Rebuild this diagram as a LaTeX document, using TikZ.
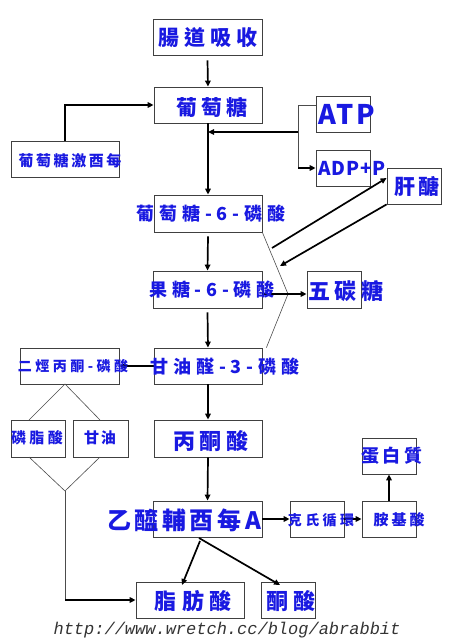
\documentclass[tikz,border=0pt]{standalone}
\usepackage{fontspec}
\setmainfont{Noto Sans CJK TC}
\newfontfamily\urlfont{Liberation Mono}
\usetikzlibrary{arrows.meta}
\definecolor{lblue}{RGB}{25,25,225}
\newcommand\lab[3]{{\bfseries\fontsize{#1pt}{#1pt}\selectfont\addfontfeature{LetterSpace=#2}#3}}
\tikzset{
  box/.style={draw=black!75, line width=0.8pt, fill=white, inner sep=0pt, minimum height=36pt},
  txt/.style={text=lblue, inner sep=0pt},
  arr/.style={line width=1.7pt, -{Triangle[length=6pt,width=5.5pt]}},
  thn/.style={line width=0.6pt, draw=black!70},
}
\begin{document}
\begin{tikzpicture}[x=1pt,y=-1pt]
\useasboundingbox (0,0) rectangle (458,640);
% boxes
\node[box, minimum width=109pt] (absorb) at (207.5,37) {};
\node[box, minimum width=108pt] (glu) at (208,105) {};
\node[box, minimum width=108pt] (hk) at (65,159) {};
\node[box, minimum width=54pt] (atp) at (343,114) {};
\node[box, minimum width=54pt] (adp) at (343,168) {};
\node[box, minimum width=54pt] (gly) at (414,186) {};
\node[box, minimum width=108pt, minimum height=37pt] (g6p) at (208,213.5) {};
\node[box, minimum width=109pt, minimum height=37pt] (f6p) at (207.5,289.5) {};
\node[box, minimum width=54pt, minimum height=37pt] (pent) at (334,289.5) {};
\node[box, minimum width=108pt] (ga3p) at (208,366) {};
\node[box, minimum width=99pt] (dhap) at (69.5,366) {};
\node[box, minimum width=54pt, minimum height=37pt] (pa) at (38,438.5) {};
\node[box, minimum width=55pt, minimum height=37pt] (glyc) at (100.5,438.5) {};
\node[box, minimum width=108pt, minimum height=37pt] (pyr) at (208,438.5) {};
\node[box, minimum width=54pt] (prot) at (389,456) {};
\node[box, minimum width=109pt] (acoa) at (207.5,519) {};
\node[box, minimum width=54pt] (krebs) at (317,519) {};
\node[box, minimum width=54pt] (aa) at (389,519) {};
\node[box, minimum width=108pt] (fa) at (190,600) {};
\node[box, minimum width=54pt] (ket) at (288,600) {};
% connectors
\draw[arr] ([yshift=-5pt]absorb.south) -- (glu.north);
\draw[arr] (hk.north) |- (glu.west);
\draw[arr] (glu.south) -- (g6p.north);
\coordinate (jt) at (298,105);
\coordinate (jm) at (298,132);
\coordinate (jb) at (298,168);
\coordinate (jglu) at (208,132);
\draw[thn] ([yshift=9pt]atp.west) -- (jt) -- (jb);
\draw[arr] (jb) -- (adp.west);
\draw[arr] (jm) -- (jglu);
\coordinate (gs) at (272,248);
\coordinate (ge) at (280,266);
\draw[arr] (gs) -- ([yshift=8pt]gly.west);
\draw[arr] (gly.south west) -- (ge);
\coordinate (bend) at (288,294);
\draw[thn] (g6p.south east) -- (bend) -- ([xshift=4pt]ga3p.north east);
\draw[arr] ([yshift=-4.5pt]f6p.east) -- ([yshift=-4.5pt]pent.west);
\draw[arr] ([yshift=-4pt]g6p.south) -- (f6p.north);
\draw[arr] ([yshift=-4pt]f6p.south) -- (ga3p.north);
\draw[arr] (ga3p.west) -- (dhap.east);
\coordinate (apex) at (65,384);
\coordinate (bot) at (65,491);
\coordinate (pat) at (29,420);
\coordinate (pab) at (29,457);
\coordinate (glt) at (100,420);
\coordinate (glb) at (100,457);
\draw[thn] (pat) -- (apex) -- (glt);
\draw[thn] (pab) -- (bot) -- (glb);
\draw[thn] (bot) -- (65,601);
\draw[arr] (65,600) -- (fa.west);
\draw[arr] (ga3p.south) -- (pyr.north);
\draw[arr] (pyr.south) -- (acoa.north);
\draw[arr] (acoa.east) -- (krebs.west);
\draw[arr] (krebs.east) -- (aa.west);
\draw[arr] (aa.north) -- (prot.south);
\coordinate (s1) at (200,541);
\coordinate (s2) at (199,538);
\draw[arr] (s1) -- (182,585);
\draw[arr] (s2) -- (280,585);
% texts
\node[txt] (tabsorb) at (208,38) {\lab{21}{24}{腸道吸收}};
\node[txt] (tglu) at (212,107) {\lab{21}{20}{葡萄糖}};
\node[txt] (thk) at (70,161) {\lab{15}{17}{葡萄糖激酉每}};
\node[txt] (tatp) at (347,114) {\lab{27}{10}{ATP}};
\node[txt] (tadp) at (352,168) {\lab{19}{5}{ADP+P}};
\node[txt] (tgly) at (417,186) {\lab{21}{10}{肝醣}};
\node[txt] (tg6p) at (211,214) {\lab{18}{27}{葡萄糖-6-磷酸}};
\node[txt] (tf6p) at (212,290) {\lab{18}{26}{果糖-6-磷酸}};
\node[txt] (tpent) at (346,291) {\lab{22}{20}{五碳糖}};
\node[txt] (tga3p) at (225,367) {\lab{18}{27}{甘油醛-3-磷酸}};
\node[txt] (tdhap) at (73,366) {\lab{14}{25}{二烴丙酮-磷酸}};
\node[txt] (tpa) at (37,438) {\lab{15}{23}{磷脂酸}};
\node[txt] (tglyc) at (100,438) {\lab{15}{13}{甘油}};
\node[txt] (tpyr) at (211,441) {\lab{22}{20}{丙酮酸}};
\node[txt] (tprot) at (392,456) {\lab{18}{22}{蛋白質}};
\node[txt] (tacoa) at (184,520) {\lab{24}{15}{乙醯輔酉每A}};
\node[txt] (tkrebs) at (321,520) {\lab{14}{24}{克氏循環}};
\node[txt] (taa) at (399,520) {\lab{15}{20}{胺基酸}};
\node[txt] (tfa) at (193,601) {\lab{22}{25}{脂肪酸}};
\node[txt] (tket) at (291,601) {\lab{22}{27}{酮酸}};
\node[inner sep=0pt, text=black!80] (url) at (227,630) {\urlfont\itshape\fontsize{17pt}{17pt}\selectfont http://www.wretch.cc/blog/abrabbit};
\end{tikzpicture}
\end{document}
